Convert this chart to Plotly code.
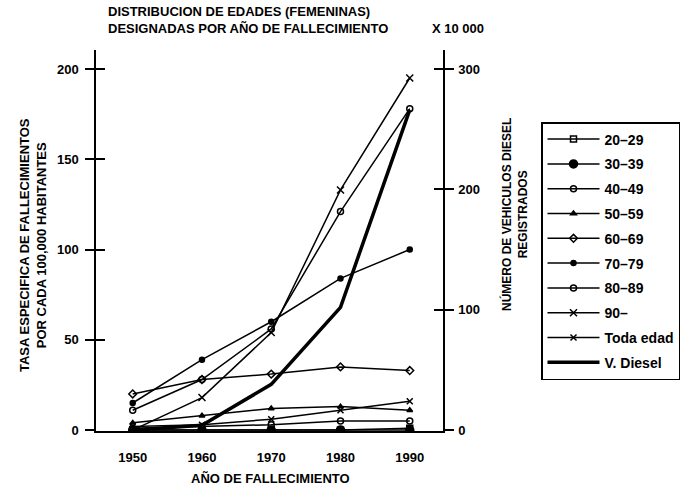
import plotly.graph_objects as go

years = [1950, 1960, 1970, 1980, 1990]

age_groups = ["20–29", "30–39", "40–49", "50–59", "60–69", "70–79", "80–89", "90–", "Toda edad"]
rate_20_29 = [0, 0, 0, 0, 1]
rate_30_39 = [0, 0, 0, 0, 0]
rate_40_49 = [1, 2, 3, 5, 5]
rate_50_59 = [4, 8, 12, 13, 11]
rate_60_69 = [20, 28, 31, 35, 33]
rate_70_79 = [15, 39, 60, 84, 100]
rate_80_89 = [11, 28, 56, 121, 178]
rate_90 = [0, 18, 54, 133, 195]
rate_toda = [2, 3, 6, 11, 16]
diesel = [0, 4, 38, 102, 266]  # x 10 000 vehicles

left_ticks = [0, 50, 100, 150, 200]
right_ticks = [0, 100, 200, 300]
x_ticks = [1950, 1960, 1970, 1980, 1990]

series = [
    ("20–29", rate_20_29, "square-open", 6),
    ("30–39", rate_30_39, "circle", 8),
    ("40–49", rate_40_49, "circle-open", 6),
    ("50–59", rate_50_59, "triangle-up", 5),
    ("60–69", rate_60_69, "diamond-open", 6),
    ("70–79", rate_70_79, "circle", 5),
    ("80–89", rate_80_89, "circle-open", 6),
    ("90–", rate_90, "x-thin-open", 7),
    ("Toda edad", rate_toda, "x-thin-open", 6),
]

FONT = "Liberation Sans"
L, T, B = 96, 50, 60
W = 682 - L          # paper width (right margin 0)
H = 491 - T - B      # paper height
PLOT_W = 347


def px(x):
    return (x - L) / W


def py(y):
    return (491 - B - y) / H


fig = go.Figure()
for i, (name, vals, sym, size) in enumerate(series):
    fig.add_trace(go.Scatter(
        x=years, y=vals, name=name, mode="lines+markers",
        line=dict(color="black", width=1.5),
        marker=dict(symbol=sym, size=size, color="black",
                    line=dict(color="black", width=1.5)),
        legendgroup=f"g{i}",
    ))
fig.add_trace(go.Scatter(
    x=years, y=diesel, name="V. Diesel", mode="lines", yaxis="y2",
    line=dict(color="black", width=3.5), legendgroup="g_diesel",
))
# invisible helper traces for inner tick halves
fig.add_trace(go.Scatter(x=years, y=rate_30_39, yaxis="y3", mode="lines",
                         opacity=0, showlegend=False, hoverinfo="skip"))
fig.add_trace(go.Scatter(x=years, y=diesel, yaxis="y4", mode="lines",
                         opacity=0, showlegend=False, hoverinfo="skip"))

yl = [-0.5, 210.5]
yr = [v * 1.5 for v in yl]
tickfont = dict(family=FONT, size=13, color="black", weight="bold")

fig.update_layout(
    width=682, height=491,
    margin=dict(l=L, r=0, t=T, b=B),
    paper_bgcolor="white", plot_bgcolor="white",
    font=dict(family=FONT, color="black"),
    showlegend=True,
    xaxis=dict(domain=[0, PLOT_W / W], range=[1944.7, 1994.8], tickvals=x_ticks,
               showgrid=False, zeroline=False, showline=True, linecolor="black",
               linewidth=1.5, ticks="", tickfont=tickfont, ticklabelstandoff=14,
               automargin=False),
    yaxis=dict(range=yl, tickvals=left_ticks, showgrid=False, zeroline=False,
               showline=True, linecolor="black", linewidth=1.5,
               ticks="outside", ticklen=9, tickwidth=1.5, tickcolor="black",
               tickfont=tickfont, ticklabelstandoff=4, automargin=False),
    yaxis2=dict(range=yr, tickvals=right_ticks, overlaying="y", side="right",
                anchor="x", showgrid=False, zeroline=False, showline=True,
                linecolor="black", linewidth=1.5, ticks="outside", ticklen=9,
                tickwidth=1.5, tickcolor="black", tickfont=tickfont,
                ticklabelstandoff=2, automargin=False),
    yaxis3=dict(range=yl, tickvals=left_ticks, overlaying="y", side="left",
                anchor="x", showgrid=False, zeroline=False, showline=False,
                ticks="inside", ticklen=9, tickwidth=1.5, tickcolor="black",
                showticklabels=False, automargin=False),
    yaxis4=dict(range=yr, tickvals=right_ticks, overlaying="y", side="right",
                anchor="x", showgrid=False, zeroline=False, showline=False,
                ticks="inside", ticklen=9, tickwidth=1.5, tickcolor="black",
                showticklabels=False, automargin=False),
    legend=dict(x=px(541), y=py(122), xanchor="left", yanchor="top",
                bordercolor="black", borderwidth=1.5, bgcolor="white",
                font=dict(family=FONT, size=14, color="black", weight="bold"),
                traceorder="grouped", tracegroupgap=3.6, itemwidth=52),
)

ann_font = dict(family=FONT, size=13, color="black", weight="bold")
fig.add_annotation(xref="paper", yref="paper", x=px(106), y=py(2),
                   xanchor="left", yanchor="top", showarrow=False, align="left",
                   text="DISTRIBUCION DE EDADES (FEMENINAS)<br>DESIGNADAS POR AÑO DE FALLECIMIENTO",
                   font=ann_font)
fig.add_annotation(xref="paper", yref="paper", x=px(430), y=py(28),
                   xanchor="left", yanchor="middle", showarrow=False,
                   text="X 10 000", font=ann_font)
fig.add_annotation(xref="paper", yref="paper", x=px(33), y=py(245),
                   xanchor="center", yanchor="middle", showarrow=False, textangle=-90,
                   text="TASA ESPECIFICA DE FALLECIMIENTOS<br>POR CADA 100,000 HABITANTES",
                   font=ann_font)
fig.add_annotation(xref="paper", yref="paper", x=px(514), y=py(215),
                   xanchor="center", yanchor="middle", showarrow=False, textangle=-90,
                   text="NÚMERO DE VEHICULOS DIESEL<br>REGISTRADOS",
                   font=dict(family=FONT, size=12, color="black", weight="bold"))
fig.add_annotation(xref="paper", yref="paper", x=px(270), y=py(478),
                   xanchor="center", yanchor="middle", showarrow=False,
                   text="AÑO DE FALLECIMIENTO", font=dict(family=FONT, size=13, color="black", weight="bold"))

fig.write_html("out.html", config={"displayModeBar": False},
               post_script="document.body.style.margin='0';")
